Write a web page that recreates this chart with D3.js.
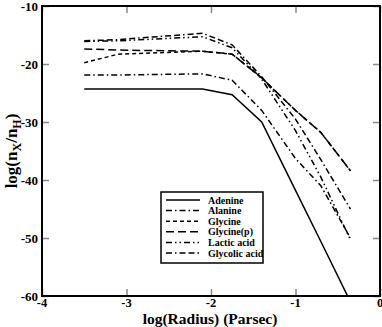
<!DOCTYPE html>
<html>
<head>
<meta charset="utf-8">
<script src="https://cdn.jsdelivr.net/npm/d3@7"></script>
<style>
body { margin: 0; background: #fff; }
text { font-family: "Liberation Serif", "Times New Roman", serif; font-weight: bold; }
</style>
</head>
<body>
<script>
// log(Radius) sample points
var radius = [-3.5, -3.1, -2.1, -1.75, -1.4, -1.0, -0.7, -0.35];

var adenine   = [-24.3, -24.3, -24.3, -25.3, -30.0, -41.8, -50.6, -61.0];
var alanine   = [-21.9, -21.9, -21.7, -22.8, -28.0, -36.3, -41.0, -50.0];
var glycine   = [-19.8, -18.3, -17.8, -18.3, -22.4, -28.0, -31.8, -38.4];
var glycineP  = [-17.4, -17.6, -17.8, -18.3, -22.4, -28.0, -31.8, -38.4];
var lactic    = [-16.1, -16.0, -15.3, -17.2, -22.6, -31.5, -39.5, -50.3];
var glycolic  = [-16.0, -15.8, -14.7, -16.7, -22.2, -29.5, -36.5, -45.0];

var names = ['Adenine', 'Alanine', 'Glycine', 'Glycine(p)', 'Lactic acid', 'Glycolic acid'];
var dashes = ['none', '6,3,1.5,3', '4,3', '8,4', '6,3,1.5,3,1.5,3', '6,3,1.5,3,6,3'];
var series = [adenine, alanine, glycine, glycineP, lactic, glycolic];

var xTicks = [-4, -3, -2, -1, 0];
var yTicks = [-10, -20, -30, -40, -50, -60];

var WIDTH = 382, HEIGHT = 327;
var mLeft = 42, mTop = 6, mRight = 380, mBottom = 296;

var x = d3.scaleLinear().domain([-4, 0]).range([mLeft, mRight]);
var y = d3.scaleLinear().domain([-60, -10]).range([mBottom, mTop]);

var svg = d3.select('body').append('svg')
  .attr('width', WIDTH)
  .attr('height', HEIGHT);

svg.append('clipPath').attr('id', 'clip')
  .append('rect')
  .attr('x', mLeft).attr('y', mTop)
  .attr('width', mRight - mLeft).attr('height', mBottom - mTop);

// axes with inward ticks, labels only on bottom / left
var tk = 7;
function styleTicks(g){
  g.select('.domain').remove();
  g.selectAll('line').attr('stroke', '#888').attr('stroke-width', 1.5);
}
svg.append('g').attr('transform', 'translate(0,' + mBottom + ')')
  .call(d3.axisTop(x).tickValues(xTicks).tickSize(tk).tickFormat(''))
  .call(styleTicks);
svg.append('g').attr('transform', 'translate(0,' + mTop + ')')
  .call(d3.axisBottom(x).tickValues(xTicks).tickSize(tk).tickFormat(''))
  .call(styleTicks);
svg.append('g').attr('transform', 'translate(' + mLeft + ',0)')
  .call(d3.axisRight(y).tickValues(yTicks).tickSize(tk).tickFormat(''))
  .call(styleTicks);
svg.append('g').attr('transform', 'translate(' + mRight + ',0)')
  .call(d3.axisLeft(y).tickValues(yTicks).tickSize(tk).tickFormat(''))
  .call(styleTicks);

svg.selectAll('.xlab')
  .data(xTicks)
  .enter()
  .append('text')
  .attr('x', function(d){ return x(d); })
  .attr('y', mBottom + 11)
  .attr('text-anchor', 'middle')
  .attr('font-size', 12.5)
  .text(function(d){ return d; });

svg.selectAll('.ylab')
  .data(yTicks)
  .enter()
  .append('text')
  .attr('x', mLeft - 4)
  .attr('y', function(d){ return y(d) + 4.5; })
  .attr('text-anchor', 'end')
  .attr('font-size', 13)
  .text(function(d){ return d; });

// frame
svg.append('rect')
  .attr('x', mLeft).attr('y', mTop)
  .attr('width', mRight - mLeft).attr('height', mBottom - mTop)
  .attr('fill', 'none')
  .attr('stroke', '#000')
  .attr('stroke-width', 2);

var line = d3.line()
  .x(function(d, i){ return x(radius[i]); })
  .y(function(d){ return y(d); });

svg.append('g').attr('clip-path', 'url(#clip)')
  .selectAll('path')
  .data(series)
  .enter()
  .append('path')
  .attr('d', line)
  .attr('fill', 'none')
  .attr('stroke', '#000')
  .attr('stroke-width', 1.5)
  .attr('stroke-dasharray', function(d, i){ return dashes[i]; });

// axis titles
svg.append('text')
  .attr('x', 210)
  .attr('y', 324)
  .attr('text-anchor', 'middle')
  .attr('font-size', 15.5)
  .text('log(Radius) (Parsec)');

var yt = svg.append('text')
  .attr('transform', 'translate(17,' + ((mTop + mBottom) / 2) + ') rotate(-90)')
  .attr('text-anchor', 'middle')
  .attr('font-size', 17);
yt.append('tspan').text('log(n');
yt.append('tspan').attr('font-size', 12).attr('dy', 4).text('X');
yt.append('tspan').attr('dy', -4).text('/n');
yt.append('tspan').attr('font-size', 12).attr('dy', 4).text('H');
yt.append('tspan').attr('dy', -4).text(')');

// legend
var lg = svg.append('g');
lg.append('rect')
  .attr('x', 161).attr('y', 192)
  .attr('width', 102).attr('height', 71)
  .attr('fill', '#fff')
  .attr('stroke', '#000')
  .attr('stroke-width', 1.5);

var rows = lg.selectAll('.row')
  .data(names)
  .enter()
  .append('g')
  .attr('transform', function(d, i){ return 'translate(0,' + (200 + i * 10.6) + ')'; });
rows.append('line')
  .attr('x1', 166).attr('x2', 200)
  .attr('stroke', '#000')
  .attr('stroke-width', 1.5)
  .attr('stroke-dasharray', function(d, i){ return dashes[i]; });
rows.append('text')
  .attr('x', 208)
  .attr('y', 3.5)
  .attr('font-size', 10)
  .text(function(d){ return d; });
</script>
</body>
</html>
